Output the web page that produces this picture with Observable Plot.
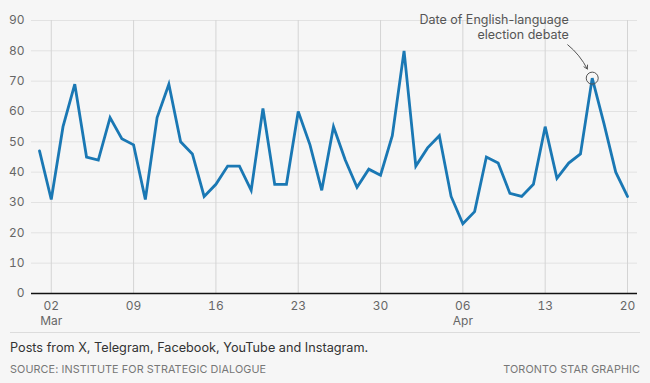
<!DOCTYPE html>
<html>
<head>
<meta charset="utf-8">
<script src="https://cdn.jsdelivr.net/npm/d3@7"></script>
<script src="https://cdn.jsdelivr.net/npm/@observablehq/plot@0.6"></script>
<style>
  html, body { margin: 0; padding: 0; background: #f6f6f6; }
  body { width: 650px; height: 383px; overflow: hidden; font-family: Inter, "Noto Sans", sans-serif; }
  #chart svg { display: block; }
  .foot { margin: 1px 10px 0 10px; border-top: 1px solid #dcdcdc; }
  .caption { padding-top: 7px; font-size: 12.7px; line-height: 16px; color: #333; }
  .source { margin-top: 6px; display: flex; justify-content: space-between; font-size: 10.8px; line-height: 16px; color: #777; letter-spacing: 0.1px; }
</style>
</head>
<body>
<div id="chart"></div>
<div class="foot">
  <div class="caption">Posts from X, Telegram, Facebook, YouTube and Instagram.</div>
  <div class="source"><span>SOURCE: INSTITUTE FOR STRATEGIC DIALOGUE</span><span>TORONTO STAR GRAPHIC</span></div>
</div>
<script>
// Daily post counts, starting March 1, 2025
const startDate = "2025-03-01";
const posts = [
  47, 31, 55, 69, 45, 44, 58, 51, 49, 31,
  58, 69, 50, 46, 32, 36, 42, 42, 34, 61,
  36, 36, 60, 49, 34, 55, 44, 35, 41, 39, 52,
  80, 42, 48, 52, 32, 23, 27, 45, 43, 33,
  32, 36, 55, 38, 43, 46, 71, 56, 40, 32
];
const tickDates = ["2025-03-02", "2025-03-09", "2025-03-16", "2025-03-23", "2025-03-30", "2025-04-06", "2025-04-13", "2025-04-20"];
const tickLabels = ["02\nMar", "09", "16", "23", "30", "06\nApr", "13", "20"];
const yTicks = [0, 10, 20, 30, 40, 50, 60, 70, 80, 90];
const debateDate = "2025-04-17";
const debateLabel = "Date of English-language\nelection debate";

const start = new Date(startDate + "T00:00:00Z");
const data = posts.map((v, i) => ({ date: d3.utcDay.offset(start, i), value: v }));
const ticks = tickDates.map(s => new Date(s + "T00:00:00Z"));
const labelMap = new Map(ticks.map((t, i) => [+t, tickLabels[i]]));
const dDate = new Date(debateDate + "T00:00:00Z");
const debate = data.find(d => +d.date === +dDate);

const chart = Plot.plot({
  width: 650,
  height: 331,
  marginLeft: 31,
  marginRight: 13,
  marginTop: 20,
  marginBottom: 38,
  style: { background: "transparent", fontFamily: "Inter, 'Noto Sans', sans-serif", fontSize: "12px", color: "#666" },
  x: { type: "utc", domain: d3.extent(data, d => d.date), insetLeft: 8, insetRight: 10 },
  y: { domain: [0, 90] },
  marks: [
    Plot.ruleY(yTicks.filter(d => d > 0), { stroke: "#e2e2e2", strokeWidth: 1 }),
    Plot.ruleX(ticks, { y1: 0, y2: 90, stroke: "#d4d4d4", strokeWidth: 1 }),
    Plot.axisY(yTicks, { tickSize: 0, tickPadding: 7, label: null, fontSize: 12 }),
    Plot.axisX(ticks, { tickSize: 0, tickPadding: 5, label: null, fontSize: 12, tickFormat: d => labelMap.get(+d), lineHeight: 1.3 }),
    Plot.ruleY([0], { stroke: "#111", strokeWidth: 1.6 }),
    Plot.line(data, { x: "date", y: "value", stroke: "#1a78b4", strokeWidth: 2.8, strokeLinejoin: "miter", strokeMiterlimit: 4 }),
    Plot.dot([debate], { x: "date", y: "value", r: 6, stroke: "#555", fill: "none", strokeWidth: 1 }),
    Plot.arrow([debate], {
      x1: d => d3.utcHour.offset(d.date, -50),
      y1: d => d.value + 11,
      x2: d => d3.utcHour.offset(d.date, -10),
      y2: d => d.value + 3,
      bend: 12,
      stroke: "#555",
      strokeWidth: 1,
      headLength: 6
    }),
    Plot.text([debate], {
      x: d => d3.utcDay.offset(d.date, -2),
      y: 88,
      text: () => debateLabel,
      textAnchor: "end",
      lineAnchor: "middle",
      lineHeight: 1.2,
      fontSize: 12.5,
      fill: "#555"
    })
  ]
});
document.getElementById("chart").append(chart);
</script>
</body>
</html>
